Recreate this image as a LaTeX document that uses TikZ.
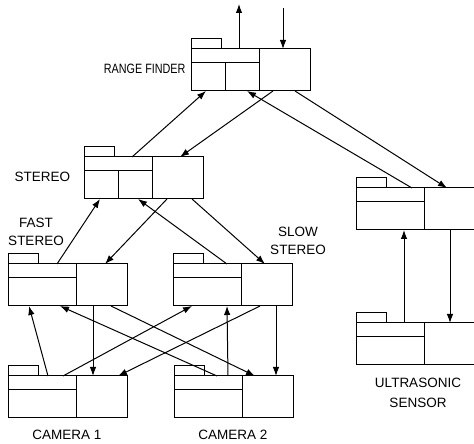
\documentclass[tikz,border=0pt]{standalone}
\usepackage{fontspec}
\usepackage{graphicx}
\setmainfont{Liberation Sans}
\usetikzlibrary{arrows.meta,calc}
\newcommand\drawmodule[4]{%
  \node[modbox] (#1) at (#2,#3) {};
  \draw ([yshift=-14pt]#1.north west) -- ++(68,0);
  \draw ([xshift=68pt]#1.north west) -- ([xshift=68pt]#1.south west);
  \draw (#1.north west) -- ++(0,10) -- ++(30,0) -- ++(0,-10);
  \ifnum#4=1 \draw ([xshift=34pt,yshift=-14pt]#1.north west) -- ([xshift=34pt]#1.south west);\fi
}
\begin{document}
\begin{tikzpicture}[x=1pt,y=1pt,
  line width=1pt,
  modbox/.style={draw, rectangle, minimum width=119pt, minimum height=42pt, inner sep=0pt, outer sep=0pt, anchor=north west},
  conn/.style={-{Latex[length=9pt,width=6.5pt]}},
  lbl/.style={font=\fontsize{13.5}{18}\selectfont, inner sep=0pt, align=center}]
\useasboundingbox (0,0) rectangle (474,444);

% modules
\drawmodule{rf}{191}{395}{1}
\drawmodule{st}{84}{287}{1}
\drawmodule{fs}{8}{180}{0}
\drawmodule{ss}{173}{180}{0}
\drawmodule{c1}{8}{68}{0}
\drawmodule{c2}{174}{68}{0}
\drawmodule{usu}{356}{256}{0}
\drawmodule{usl}{356}{121}{0}

% free ends
\coordinate (rfout) at (239,440);
\coordinate (rfin) at (283,436);

% range finder
\draw[conn] ([xshift=48pt]rf.north west) -- (rfout);
\draw[conn] (rfin) -- ([xshift=92pt]rf.north west);
\draw[conn] ([xshift=48pt]st.north west) -- ([xshift=15pt]rf.south west);
\draw[conn] ([xshift=82pt]rf.south west) -- ([xshift=96pt]st.north west);
\draw[conn] ([xshift=56pt]usu.north west) -- ([xshift=56pt]rf.south west);
\draw[conn] ([xshift=104pt]rf.south west) -- ([xshift=91pt]usu.north west);
% stereo
\draw[conn] ([xshift=49pt]fs.north west) -- ([xshift=16pt]st.south west);
\draw[conn] ([xshift=54pt]ss.north west) -- ([xshift=54pt]st.south west);
\draw[conn] ([xshift=83pt]st.south west) -- ([xshift=97pt]fs.north west);
\draw[conn] ([xshift=108pt]st.south west) -- ([xshift=92pt]ss.north west);
% cameras
\draw[conn] ([xshift=40pt]c1.north west) -- ([xshift=21pt]fs.south west);
\draw[conn] ([xshift=43pt]c2.north west) -- ([xshift=52pt]fs.south west);
\draw[conn] ([xshift=85pt]fs.south west) -- ([xshift=85pt]c1.north west);
\draw[conn] ([xshift=103pt]fs.south west) -- ([xshift=81pt]c2.north west);
\draw[conn] ([xshift=55pt]c1.north west) -- ([xshift=19pt]ss.south west);
\draw[conn] ([xshift=87pt]ss.south west) -- ([xshift=110pt]c1.north west);
\draw[conn] ([xshift=54pt]c2.north west) -- ([xshift=54pt]ss.south west);
\draw[conn] ([xshift=103pt]ss.south west) -- ([xshift=102pt]c2.north west);
% ultrasonic
\draw[conn] ([xshift=48pt]usl.north west) -- ([xshift=48pt]usu.south west);
\draw[conn] ([xshift=94pt]usu.south west) -- ([xshift=94pt]usl.north west);

% labels
\node[lbl, anchor=base east] (rflbl) at (186,370) {\scalebox{0.8}[1]{RANGE FINDER}};
\node[lbl, anchor=base west] (stlbl) at (14,262) {STEREO};
\node[lbl, anchor=north] (fslbl) at (36,226) {FAST\\STEREO};
\node[lbl, anchor=north] (sslbl) at (298,217) {SLOW\\STEREO};
\node[lbl, anchor=north] (uslbl) at (418,66) {ULTRASONIC\\[2pt]SENSOR};
\node[lbl, anchor=base] (c1lbl) at (67,4) {CAMERA 1};
\node[lbl, anchor=base] (c2lbl) at (233,4) {CAMERA 2};
\end{tikzpicture}
\end{document}
